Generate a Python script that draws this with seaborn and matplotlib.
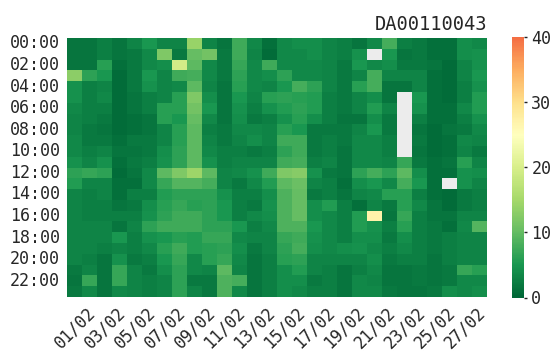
import numpy as np
import pandas as pd
import matplotlib
matplotlib.use("Agg")
import matplotlib.pyplot as plt
import seaborn as sns

nan = np.nan

sensor_id = "DA00110043"
hours = [f"{h:02d}:00" for h in range(24)]
days = [f"{d:02d}/02" for d in range(1, 29)]

# hourly readings, one row per hour of the day, one column per day of February
readings = [
    [1.5, 1.5, 2.5, 1.5, 3, 5, 3, 3, 14, 3, 1.5, 7.5, 3.5, 1, 3.5, 4, 4, 3, 2.5, 1.5, 3.5, 8, 2.5, 2, 1, 1, 4, 3.5],
    [1.5, 1.5, 2.5, 1.5, 2, 3.5, 12, 2, 10, 11, 2, 7.5, 3, 0.5, 3.5, 3.5, 4, 3, 2.5, 4.5, nan, 5, 1.5, 2, 1, 1, 4, 4.5],
    [1.5, 1.5, 6, 1, 2, 3.5, 4, 19.5, 9.5, 3.5, 2, 7, 3.5, 7.5, 3.5, 3.5, 3.5, 3, 2, 5, 3.5, 4, 2, 2, 1.5, 0.5, 3, 4.5],
    [13, 6.5, 5, 0.5, 2, 5, 3, 7.5, 8, 3.5, 2, 6.5, 3.5, 4, 6.5, 3.5, 3.5, 3, 2, 3, 8, 3, 3, 3, 1, 0.5, 3, 5],
    [4.5, 2.5, 3, 0.5, 2, 4.5, 3, 3.5, 9.5, 3, 1.5, 6, 3.5, 3, 5, 8, 6.5, 3, 2, 6, 8, 1.5, 1.5, 3, 1, 0.5, 2.5, 4.5],
    [4.5, 2.5, 3.5, 0.5, 1.5, 2.5, 3, 6, 12, 4, 1.5, 5, 3, 6, 6.5, 6, 5.5, 2.5, 2, 3, 4, 1.5, nan, 5, 1, 0.5, 2.5, 5.5],
    [3.5, 2.5, 2.5, 0.5, 1.5, 2.5, 6, 6, 11, 5, 1.5, 4.5, 2.5, 4.5, 5.5, 6.5, 5.5, 2.5, 2, 3, 5.5, 3, nan, 4.5, 1, 1, 3.5, 5.5],
    [3, 2.5, 2, 0.5, 1, 1.5, 6, 5, 10, 3.5, 1.5, 4, 2, 2.5, 4.5, 6, 4, 2.5, 1.5, 1.5, 4, 2, nan, 2.5, 1, 1, 2.5, 4.5],
    [3, 2, 1.5, 0.5, 1, 1.5, 3, 6, 9.5, 2.5, 2, 3.5, 3.5, 3, 6, 5, 2, 2, 2, 3, 5, 2, nan, 1.5, 0.5, 1.5, 2, 3.5],
    [3.5, 2, 2, 1, 2, 2, 3, 6, 9.5, 3, 2, 3, 4, 3, 7.5, 7.5, 2, 2.5, 2, 3.5, 3.5, 2.5, nan, 2, 0.5, 1, 3.5, 3],
    [3.5, 2.5, 3, 1.5, 1.5, 2, 4, 6.5, 9.5, 3.5, 2.5, 2.5, 2, 2.5, 6.5, 7.5, 2, 2.5, 1.5, 3.5, 3.5, 2.5, nan, 1.5, 0.5, 1, 3, 2],
    [4.5, 3, 4.5, 1, 2, 2.5, 4.5, 6.5, 9.5, 4.5, 2.5, 3, 3, 3, 7.5, 8, 2.5, 3, 1.5, 3.5, 3.5, 3, 7, 2, 1, 1.5, 6, 3],
    [6.5, 7, 6.5, 0.5, 1.5, 3.5, 9.5, 12, 14.5, 9.5, 3, 3.5, 4.5, 7.5, 12, 12.5, 4.5, 2, 1.5, 6.5, 8, 6.5, 9.5, 4, 1, 1, 4.5, 4],
    [5.5, 3, 3, 1, 1, 3.5, 7, 9, 9, 8, 3, 2, 3.5, 5.5, 9.5, 10.5, 3, 2.5, 1, 4, 5, 3.5, 8, 5, 1, nan, 4.5, 3],
    [3, 2.5, 3, 1, 2.5, 2.5, 5.5, 6.5, 6.5, 6.5, 4.5, 2.5, 2.5, 4, 8.5, 10, 2, 2.5, 1.5, 3, 3.5, 6, 6, 2.5, 1, 0.5, 2, 2.5],
    [3, 2.5, 2.5, 1.5, 2, 4, 6, 7, 6, 6.5, 5, 2.5, 2, 4.5, 8.5, 10, 4, 5.5, 2.5, 1, 3, 2, 6, 3.5, 1.5, 0.5, 2, 2.5],
    [3, 2.5, 2.5, 2.5, 2.5, 4.5, 6.5, 7.5, 7.5, 6.5, 5, 2.5, 3.5, 4, 8.5, 10, 4, 3.5, 2.5, 5.5, 27, 1.5, 7, 2.5, 1.5, 1.5, 3, 3],
    [3, 3, 3, 1.5, 3, 6.5, 7.5, 7.5, 7.5, 6.5, 6.5, 5, 2.5, 3.5, 8.5, 8.5, 5, 3.5, 2.5, 5.5, 4.5, 2.5, 6, 2.5, 2, 1, 3.5, 9],
    [3, 3, 3, 5, 2.5, 4.5, 5, 6, 5.5, 7, 7, 3.5, 3, 3, 7, 7.5, 4.5, 3.5, 2.5, 4, 4, 2, 4, 2.5, 2, 2.5, 3, 3],
    [3, 3, 2.5, 3, 2.5, 3.5, 6, 7.5, 5.5, 6, 6.5, 4, 2, 3, 6.5, 8, 4, 3.5, 4, 4.5, 3.5, 2.5, 3.5, 2.5, 2, 2.5, 3, 3],
    [3, 2.5, 1.5, 4.5, 2, 2.5, 5, 7, 3.5, 6, 7, 3.5, 1.5, 2.5, 6, 6.5, 3, 3, 3, 3, 4, 2, 2.5, 2.5, 1.5, 2.5, 3, 3],
    [2, 3, 1.5, 7, 3, 2, 4, 6.5, 3.5, 3, 9.5, 3, 1.5, 2.5, 4, 5.5, 3, 2.5, 1.5, 2.5, 3.5, 1.5, 1.5, 2, 1.5, 2, 7, 6],
    [1.5, 7, 1.5, 7, 3, 2.5, 3, 6.5, 2, 2, 8.5, 8, 1.5, 2.5, 4, 4, 2, 2.5, 1.5, 3.5, 3, 1.5, 1.5, 2, 1.5, 2, 3.5, 3.5],
    [2, 3.5, 1.5, 3.5, 3, 2.5, 3, 6.5, 3, 2, 8.5, 3.5, 1.5, 2.5, 4, 3.5, 2.5, 2.5, 1.5, 3.5, 3.5, 2, 1.5, 1.5, 2, 4, 3.5, 4],
]

table = pd.DataFrame(readings, index=hours, columns=days)

sns.set_style("white")
plt.rcParams["font.family"] = ["DejaVu Sans Mono"]

W, H = 552, 354
fig = plt.figure(figsize=(W / 100, H / 100), dpi=100)
ax = fig.add_axes([67 / W, 1 - 297 / H, 420 / W, 259 / H])
cax = fig.add_axes([512 / W, 1 - 297.5 / H, 12 / W, 260.5 / H])
ax.set_facecolor("#ececec")

sns.heatmap(
    table, ax=ax, cbar_ax=cax, cmap="RdYlGn_r",
    vmin=0, vmax=40, center=25,
    xticklabels=2, yticklabels=2,
)

ax.set_title(sensor_id, loc="right", fontsize=13.5, pad=6)
ax.set_xlabel("")
ax.set_ylabel("")
ax.tick_params(axis="both", labelsize=12, length=0, pad=5)
plt.setp(ax.get_yticklabels(), rotation=0)
plt.setp(ax.get_xticklabels(), rotation=45, ha="center")

cax.set_yticks([0, 10, 20, 30, 40])
cax.tick_params(labelsize=12, right=True, length=2.5, width=1.0, pad=2.8, color="#222222")

fig.savefig("out.png", dpi=100)
